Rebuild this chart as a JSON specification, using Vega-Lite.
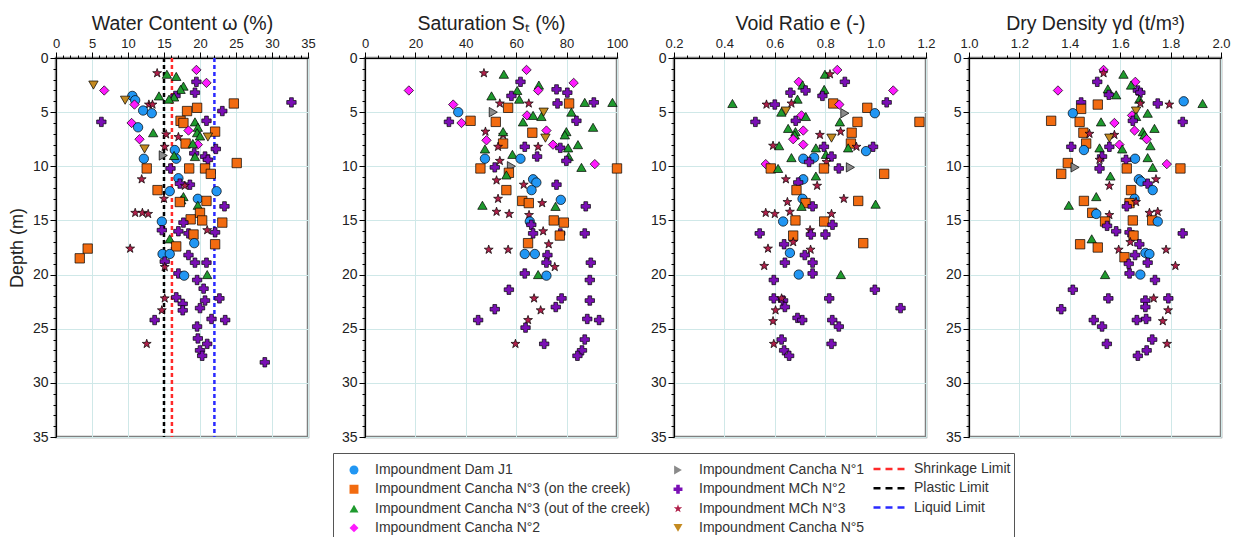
{
"$schema": "https://vega.github.io/schema/vega-lite/v6.json",
"padding": {"left": 7, "top": 11, "right": 5, "bottom": 0},
"autosize": {"type": "pad"},
"config": {
 "font": "Liberation Sans",
 "view": {"stroke": "#7f7f7f", "strokeWidth": 2.5},
 "axis": {"domainColor": "#000", "tickColor": "#000", "labelColor": "#222", "titleColor": "#222", "titleFontWeight": "normal", "labelFont": "Liberation Sans", "titleFont": "Liberation Sans", "gridColor": "#cfe8e8", "labelOverlap": false, "labelFlush": false},
 "legend": {"labelFont": "Liberation Sans", "labelFontSize": 14, "labelColor": "#333", "labelLimit": 400}
},
"datasets": {
 "groups": [
  {"k": "A", "group": "Impoundment Dam J1"},
  {"k": "B", "group": "Impoundment Cancha N°3 (on the creek)"},
  {"k": "C", "group": "Impoundment Cancha N°3 (out of the creek)"},
  {"k": "D", "group": "Impoundment Cancha N°2"},
  {"k": "E", "group": "Impoundment Cancha N°1"},
  {"k": "F", "group": "Impoundment MCh N°2"},
  {"k": "G", "group": "Impoundment MCh N°3"},
  {"k": "H", "group": "Impoundment Cancha N°5"}
 ],
 "limits": [
  {"limit": "Shrinkage Limit", "w": 16.1},
  {"limit": "Plastic Limit", "w": 15},
  {"limit": "Liquid Limit", "w": 22}
 ],
 "wc": [
  {"k":"G","d":1.4,"v":14.05},{"k":"C","d":1.5,"v":15.4},{"k":"C","d":1.7,"v":16.7},{"k":"D","d":1.1,"v":19.5},{"k":"F","d":2.2,"v":19.5},{"k":"D","d":2.3,"v":20.9},{"k":"C","d":2.6,"v":17.7},{"k":"C","d":2.9,"v":17.3},{"k":"F","d":3.5,"v":16.6},{"k":"F","d":3.2,"v":19.3},{"k":"C","d":3.6,"v":16.4},{"k":"H","d":2.5,"v":5.2},{"k":"D","d":3.0,"v":6.7},{"k":"A","d":3.5,"v":10.6},{"k":"A","d":3.9,"v":11.0},{"k":"H","d":3.9,"v":9.6},{"k":"D","d":4.3,"v":10.9},{"k":"G","d":4.3,"v":12.9},{"k":"G","d":4.3,"v":13.4},{"k":"A","d":4.85,"v":12.1},{"k":"A","d":5.1,"v":13.3},{"k":"C","d":3.5,"v":14.3},{"k":"C","d":3.8,"v":15.7},{"k":"B","d":4.2,"v":24.7},{"k":"F","d":4.9,"v":23.1},{"k":"F","d":4.1,"v":32.7},{"k":"B","d":4.9,"v":18.2},{"k":"B","d":4.6,"v":19.6},{"k":"F","d":5.9,"v":6.3},{"k":"D","d":6.0,"v":10.5},{"k":"A","d":6.4,"v":11.4},{"k":"B","d":5.8,"v":17.3},{"k":"B","d":6.0,"v":17.7},{"k":"C","d":5.9,"v":19.3},{"k":"C","d":6.4,"v":19.7},{"k":"F","d":5.8,"v":20.9},{"k":"C","d":6.9,"v":13.5},{"k":"D","d":6.7,"v":18.4},{"k":"C","d":6.9,"v":19.6},{"k":"C","d":7.2,"v":20.0},{"k":"B","d":6.8,"v":22.1},{"k":"H","d":7.3,"v":21.1},{"k":"D","d":7.5,"v":11.6},{"k":"G","d":7.05,"v":15.3},{"k":"G","d":7.3,"v":17.0},{"k":"B","d":7.9,"v":18.0},{"k":"D","d":8.0,"v":19.7},{"k":"C","d":7.9,"v":19.0},{"k":"H","d":8.4,"v":12.3},{"k":"G","d":8.2,"v":15.1},{"k":"F","d":8.4,"v":22.2},{"k":"E","d":9.0,"v":14.9},{"k":"A","d":8.5,"v":16.5},{"k":"A","d":9.3,"v":16.7},{"k":"C","d":9.0,"v":16.4},{"k":"A","d":9.3,"v":12.2},{"k":"F","d":8.8,"v":19.2},{"k":"F","d":9.1,"v":20.7},{"k":"F","d":9.4,"v":21.1},{"k":"C","d":9.1,"v":19.3},{"k":"B","d":10.2,"v":12.6},{"k":"F","d":10.2,"v":15.9},{"k":"B","d":10.2,"v":18.5},{"k":"B","d":10.2,"v":20.7},{"k":"B","d":10.7,"v":21.5},{"k":"B","d":9.7,"v":25.1},{"k":"G","d":11.2,"v":11.9},{"k":"A","d":11.1,"v":17.0},{"k":"F","d":11.6,"v":17.2},{"k":"F","d":11.7,"v":18.6},{"k":"G","d":11.8,"v":17.9},{"k":"B","d":12.2,"v":14.1},{"k":"A","d":12.3,"v":15.8},{"k":"A","d":12.3,"v":22.3},{"k":"C","d":12.8,"v":17.7},{"k":"C","d":13.1,"v":17.4},{"k":"G","d":13.0,"v":15.0},{"k":"B","d":13.3,"v":17.2},{"k":"A","d":13.0,"v":19.7},{"k":"B","d":13.2,"v":20.9},{"k":"C","d":13.6,"v":19.7},{"k":"G","d":14.3,"v":11.0},{"k":"G","d":14.3,"v":12.0},{"k":"G","d":14.4,"v":12.8},{"k":"F","d":13.7,"v":23.4},{"k":"B","d":14.3,"v":20.0},{"k":"B","d":14.9,"v":18.7},{"k":"B","d":15.0,"v":20.3},{"k":"B","d":15.2,"v":23.1},{"k":"A","d":15.1,"v":14.7},{"k":"F","d":15.2,"v":17.7},{"k":"F","d":15.9,"v":14.7},{"k":"F","d":16.0,"v":17.0},{"k":"F","d":16.2,"v":18.4},{"k":"B","d":16.3,"v":19.1},{"k":"F","d":16.1,"v":22.1},{"k":"G","d":15.9,"v":21.0},{"k":"C","d":16.7,"v":15.8},{"k":"B","d":18.5,"v":3.3},{"k":"B","d":17.6,"v":4.4},{"k":"G","d":17.6,"v":10.3},{"k":"B","d":17.4,"v":16.7},{"k":"A","d":17.1,"v":19.2},{"k":"B","d":17.2,"v":22.1},{"k":"A","d":18.1,"v":14.8},{"k":"A","d":18.1,"v":15.8},{"k":"F","d":18.2,"v":18.4},{"k":"F","d":18.9,"v":19.3},{"k":"F","d":18.9,"v":20.9},{"k":"F","d":18.8,"v":15.1},{"k":"G","d":19.3,"v":15.1},{"k":"F","d":19.9,"v":17.0},{"k":"A","d":20.1,"v":17.8},{"k":"C","d":20.0,"v":21.0},{"k":"F","d":20.5,"v":19.6},{"k":"F","d":21.3,"v":20.5},{"k":"F","d":22.2,"v":22.7},{"k":"G","d":22.2,"v":15.1},{"k":"F","d":22.1,"v":16.7},{"k":"F","d":22.7,"v":17.6},{"k":"F","d":23.3,"v":17.6},{"k":"F","d":22.4,"v":20.7},{"k":"F","d":23.1,"v":20.0},{"k":"G","d":23.3,"v":14.7},{"k":"F","d":24.2,"v":13.7},{"k":"F","d":24.1,"v":21.6},{"k":"F","d":24.2,"v":23.5},{"k":"F","d":24.8,"v":19.6},{"k":"F","d":25.9,"v":19.7},{"k":"F","d":26.4,"v":21.0},{"k":"F","d":27.0,"v":20.0},{"k":"F","d":27.5,"v":20.3},{"k":"G","d":26.4,"v":12.6},{"k":"F","d":28.1,"v":29.0}
 ],
 "sat": [
  {"k":"G","d":1.4,"v":47.2},{"k":"C","d":1.5,"v":55.1},{"k":"D","d":1.1,"v":64.1},{"k":"F","d":2.2,"v":61.7},{"k":"D","d":2.3,"v":82.8},{"k":"C","d":2.5,"v":69.0},{"k":"C","d":3.0,"v":60.4},{"k":"D","d":3.0,"v":68.7},{"k":"F","d":2.9,"v":76.0},{"k":"F","d":3.2,"v":80.3},{"k":"F","d":3.5,"v":58.1},{"k":"D","d":3.0,"v":17.4},{"k":"C","d":3.5,"v":50.2},{"k":"C","d":3.8,"v":61.2},{"k":"D","d":4.3,"v":35.0},{"k":"A","d":5.0,"v":37.0},{"k":"F","d":5.9,"v":33.3},{"k":"D","d":6.0,"v":38.3},{"k":"B","d":5.8,"v":41.9},{"k":"B","d":5.9,"v":51.9},{"k":"E","d":5.0,"v":50.9},{"k":"G","d":4.2,"v":53.5},{"k":"G","d":4.2,"v":65.0},{"k":"B","d":4.6,"v":56.8},{"k":"B","d":4.2,"v":81.0},{"k":"C","d":4.1,"v":87.2},{"k":"C","d":4.1,"v":98.2},{"k":"F","d":4.2,"v":76.4},{"k":"F","d":4.1,"v":90.8},{"k":"C","d":5.0,"v":81.9},{"k":"F","d":5.8,"v":83.9},{"k":"D","d":5.3,"v":64.3},{"k":"C","d":5.3,"v":66.7},{"k":"C","d":5.4,"v":70.0},{"k":"H","d":5.0,"v":70.9},{"k":"C","d":5.9,"v":62.7},{"k":"C","d":6.4,"v":90.5},{"k":"D","d":6.7,"v":72.0},{"k":"B","d":6.9,"v":66.4},{"k":"H","d":7.4,"v":71.6},{"k":"G","d":6.8,"v":47.8},{"k":"G","d":7.1,"v":54.8},{"k":"C","d":6.8,"v":54.8},{"k":"B","d":7.9,"v":54.8},{"k":"D","d":7.6,"v":48.2},{"k":"C","d":6.8,"v":79.9},{"k":"C","d":7.1,"v":79.3},{"k":"D","d":8.0,"v":74.6},{"k":"F","d":8.2,"v":63.4},{"k":"F","d":8.3,"v":77.5},{"k":"G","d":8.2,"v":68.7},{"k":"C","d":8.3,"v":80.6},{"k":"C","d":8.0,"v":84.5},{"k":"C","d":8.4,"v":47.6},{"k":"G","d":8.2,"v":52.8},{"k":"A","d":9.3,"v":47.6},{"k":"C","d":8.9,"v":58.5},{"k":"A","d":9.3,"v":61.7},{"k":"F","d":9.1,"v":68.3},{"k":"C","d":9.1,"v":80.8},{"k":"G","d":9.5,"v":53.5},{"k":"F","d":9.5,"v":79.9},{"k":"C","d":10.1,"v":85.9},{"k":"D","d":9.8,"v":91.2},{"k":"B","d":10.2,"v":100},{"k":"B","d":10.2,"v":45.8},{"k":"E","d":10.0,"v":58.1},{"k":"F","d":10.1,"v":51.5},{"k":"B","d":10.6,"v":57.1},{"k":"C","d":10.8,"v":56.1},{"k":"G","d":11.3,"v":52.2},{"k":"A","d":11.2,"v":66.7},{"k":"A","d":11.5,"v":68.0},{"k":"F","d":11.7,"v":76.0},{"k":"G","d":11.7,"v":63.0},{"k":"A","d":12.2,"v":66.1},{"k":"B","d":12.2,"v":56.1},{"k":"G","d":13.0,"v":52.8},{"k":"C","d":13.6,"v":46.6},{"k":"B","d":13.2,"v":62.4},{"k":"B","d":13.4,"v":65.0},{"k":"G","d":13.4,"v":70.3},{"k":"A","d":13.1,"v":77.7},{"k":"C","d":13.7,"v":75.6},{"k":"F","d":13.7,"v":87.6},{"k":"G","d":14.2,"v":52.2},{"k":"G","d":14.4,"v":57.2},{"k":"G","d":14.5,"v":65.1},{"k":"A","d":15.1,"v":65.4},{"k":"F","d":15.4,"v":66.0},{"k":"B","d":15.0,"v":74.9},{"k":"B","d":15.2,"v":78.9},{"k":"F","d":16.2,"v":87.2},{"k":"F","d":16.2,"v":66.7},{"k":"F","d":16.2,"v":77.5},{"k":"G","d":16.0,"v":70.7},{"k":"B","d":16.4,"v":77.3},{"k":"B","d":17.1,"v":64.7},{"k":"A","d":18.1,"v":63.4},{"k":"A","d":18.1,"v":67.4},{"k":"G","d":17.7,"v":49.1},{"k":"G","d":17.7,"v":56.8},{"k":"G","d":17.2,"v":72.9},{"k":"F","d":18.2,"v":72.4},{"k":"F","d":18.9,"v":72.0},{"k":"G","d":19.3,"v":75.3},{"k":"F","d":18.9,"v":89.6},{"k":"F","d":19.9,"v":63.4},{"k":"C","d":20.0,"v":68.7},{"k":"A","d":20.1,"v":72.0},{"k":"F","d":20.5,"v":89.2},{"k":"F","d":21.4,"v":57.1},{"k":"G","d":22.2,"v":67.1},{"k":"F","d":22.2,"v":78.0},{"k":"F","d":22.4,"v":89.2},{"k":"G","d":23.3,"v":69.7},{"k":"F","d":23.0,"v":75.7},{"k":"F","d":23.2,"v":51.5},{"k":"F","d":24.2,"v":44.9},{"k":"G","d":24.2,"v":64.7},{"k":"F","d":24.9,"v":63.7},{"k":"F","d":24.1,"v":88.2},{"k":"F","d":24.2,"v":92.9},{"k":"G","d":26.4,"v":59.7},{"k":"F","d":26.4,"v":71.1},{"k":"F","d":26.0,"v":87.2},{"k":"F","d":27.0,"v":86.1},{"k":"F","d":27.5,"v":84.3}
 ],
 "vr": [
  {"k":"C","d":1.5,"v":0.799},{"k":"G","d":1.5,"v":0.819},{"k":"D","d":1.1,"v":0.848},{"k":"F","d":2.2,"v":0.878},{"k":"D","d":2.2,"v":0.695},{"k":"C","d":2.5,"v":0.71},{"k":"D","d":3.0,"v":1.07},{"k":"F","d":3.2,"v":0.662},{"k":"F","d":3.0,"v":0.722},{"k":"C","d":2.9,"v":0.796},{"k":"F","d":3.5,"v":0.789},{"k":"C","d":3.8,"v":0.69},{"k":"G","d":4.2,"v":0.666},{"k":"C","d":4.2,"v":0.432},{"k":"G","d":4.3,"v":0.567},{"k":"F","d":4.3,"v":0.6},{"k":"B","d":4.2,"v":0.832},{"k":"F","d":4.1,"v":1.044},{"k":"C","d":5.0,"v":0.626},{"k":"H","d":4.9,"v":0.644},{"k":"D","d":4.3,"v":0.856},{"k":"E","d":5.1,"v":0.878},{"k":"B","d":4.6,"v":0.967},{"k":"A","d":5.1,"v":0.997},{"k":"B","d":5.9,"v":1.174},{"k":"B","d":5.9,"v":0.928},{"k":"C","d":5.9,"v":0.858},{"k":"F","d":5.9,"v":0.523},{"k":"F","d":5.8,"v":0.683},{"k":"D","d":5.3,"v":0.706},{"k":"C","d":5.4,"v":0.723},{"k":"C","d":6.5,"v":0.653},{"k":"C","d":6.8,"v":0.682},{"k":"C","d":7.1,"v":0.679},{"k":"D","d":6.7,"v":0.713},{"k":"D","d":7.5,"v":0.673},{"k":"B","d":6.9,"v":0.905},{"k":"G","d":6.8,"v":0.861},{"k":"H","d":7.4,"v":0.825},{"k":"G","d":7.1,"v":0.779},{"k":"B","d":7.9,"v":0.902},{"k":"C","d":8.1,"v":0.617},{"k":"G","d":8.1,"v":0.593},{"k":"D","d":8.0,"v":0.713},{"k":"F","d":8.2,"v":0.795},{"k":"C","d":8.3,"v":0.763},{"k":"C","d":8.3,"v":0.891},{"k":"G","d":8.2,"v":0.924},{"k":"F","d":8.2,"v":0.99},{"k":"A","d":8.6,"v":0.962},{"k":"C","d":8.9,"v":0.803},{"k":"F","d":9.1,"v":0.825},{"k":"C","d":9.2,"v":0.666},{"k":"A","d":9.3,"v":0.713},{"k":"A","d":9.2,"v":0.756},{"k":"F","d":9.6,"v":0.736},{"k":"G","d":9.6,"v":0.805},{"k":"D","d":9.8,"v":0.564},{"k":"B","d":10.2,"v":0.584},{"k":"C","d":10.2,"v":0.613},{"k":"B","d":10.2,"v":0.795},{"k":"F","d":10.2,"v":0.854},{"k":"E","d":10.1,"v":0.9},{"k":"B","d":10.7,"v":1.034},{"k":"C","d":10.9,"v":0.763},{"k":"G","d":11.2,"v":0.644},{"k":"A","d":11.2,"v":0.713},{"k":"F","d":11.5,"v":0.693},{"k":"G","d":11.8,"v":0.768},{"k":"B","d":12.2,"v":0.686},{"k":"G","d":13.0,"v":0.874},{"k":"B","d":13.2,"v":0.931},{"k":"A","d":13.0,"v":0.71},{"k":"B","d":13.4,"v":0.722},{"k":"C","d":13.7,"v":0.706},{"k":"F","d":13.7,"v":0.75},{"k":"C","d":13.5,"v":1.0},{"k":"G","d":13.3,"v":0.65},{"k":"G","d":14.3,"v":0.564},{"k":"G","d":14.4,"v":0.6},{"k":"G","d":14.2,"v":0.66},{"k":"G","d":14.4,"v":0.825},{"k":"A","d":15.1,"v":0.633},{"k":"B","d":15.0,"v":0.682},{"k":"B","d":15.1,"v":0.796},{"k":"F","d":15.4,"v":0.829},{"k":"G","d":15.9,"v":0.74},{"k":"F","d":16.2,"v":0.54},{"k":"B","d":16.4,"v":0.673},{"k":"F","d":16.3,"v":0.743},{"k":"F","d":16.3,"v":0.801},{"k":"B","d":17.1,"v":0.951},{"k":"G","d":17.6,"v":0.573},{"k":"F","d":17.2,"v":0.637},{"k":"G","d":17.0,"v":0.673},{"k":"A","d":18.0,"v":0.66},{"k":"G","d":17.7,"v":0.742},{"k":"F","d":18.2,"v":0.719},{"k":"F","d":18.9,"v":0.64},{"k":"F","d":18.9,"v":0.75},{"k":"G","d":19.2,"v":0.558},{"k":"A","d":20.0,"v":0.695},{"k":"F","d":19.9,"v":0.75},{"k":"C","d":20.0,"v":0.862},{"k":"F","d":20.5,"v":0.596},{"k":"F","d":21.4,"v":0.997},{"k":"F","d":22.2,"v":0.596},{"k":"F","d":22.4,"v":0.633},{"k":"G","d":22.2,"v":0.627},{"k":"F","d":22.2,"v":0.816},{"k":"G","d":23.3,"v":0.603},{"k":"F","d":23.0,"v":0.64},{"k":"F","d":23.1,"v":1.099},{"k":"G","d":24.3,"v":0.593},{"k":"F","d":24.0,"v":0.69},{"k":"F","d":24.2,"v":0.709},{"k":"F","d":24.2,"v":0.828},{"k":"F","d":24.8,"v":0.854},{"k":"F","d":26.0,"v":0.627},{"k":"G","d":26.4,"v":0.596},{"k":"F","d":26.4,"v":0.825},{"k":"F","d":27.0,"v":0.637},{"k":"F","d":27.5,"v":0.657}
 ],
 "dd": [
  {"k":"D","d":1.1,"v":1.534},{"k":"G","d":1.4,"v":1.534},{"k":"C","d":1.5,"v":1.613},{"k":"F","d":2.2,"v":1.509},{"k":"D","d":2.2,"v":1.66},{"k":"C","d":2.5,"v":1.643},{"k":"D","d":3.0,"v":1.353},{"k":"C","d":2.85,"v":1.551},{"k":"F","d":3.0,"v":1.67},{"k":"F","d":3.2,"v":1.68},{"k":"F","d":3.4,"v":1.555},{"k":"C","d":3.4,"v":1.584},{"k":"C","d":3.8,"v":1.676},{"k":"F","d":4.1,"v":1.445},{"k":"B","d":4.3,"v":1.511},{"k":"B","d":4.7,"v":1.445},{"k":"F","d":4.2,"v":1.749},{"k":"G","d":4.3,"v":1.795},{"k":"G","d":4.2,"v":1.68},{"k":"A","d":4.0,"v":1.852},{"k":"C","d":4.2,"v":1.927},{"k":"A","d":5.1,"v":1.412},{"k":"H","d":4.9,"v":1.663},{"k":"C","d":5.1,"v":1.709},{"k":"D","d":5.3,"v":1.647},{"k":"C","d":5.4,"v":1.663},{"k":"F","d":5.8,"v":1.65},{"k":"B","d":5.8,"v":1.326},{"k":"B","d":5.9,"v":1.439},{"k":"C","d":5.9,"v":1.524},{"k":"D","d":6.0,"v":1.577},{"k":"F","d":5.9,"v":1.848},{"k":"C","d":6.5,"v":1.736},{"k":"D","d":6.7,"v":1.657},{"k":"C","d":6.8,"v":1.69},{"k":"C","d":7.1,"v":1.696},{"k":"B","d":6.9,"v":1.454},{"k":"G","d":7.0,"v":1.478},{"k":"G","d":7.1,"v":1.577},{"k":"H","d":7.4,"v":1.557},{"k":"D","d":7.5,"v":1.705},{"k":"B","d":7.9,"v":1.465},{"k":"D","d":8.0,"v":1.597},{"k":"C","d":8.1,"v":1.72},{"k":"F","d":8.2,"v":1.406},{"k":"F","d":8.2,"v":1.557},{"k":"C","d":8.3,"v":1.518},{"k":"A","d":8.5,"v":1.456},{"k":"C","d":8.4,"v":1.608},{"k":"F","d":9.1,"v":1.528},{"k":"G","d":9.4,"v":1.518},{"k":"A","d":9.3,"v":1.659},{"k":"F","d":9.4,"v":1.623},{"k":"C","d":9.2,"v":1.709},{"k":"C","d":10.1,"v":1.729},{"k":"D","d":9.8,"v":1.785},{"k":"B","d":10.2,"v":1.839},{"k":"B","d":9.7,"v":1.392},{"k":"B","d":10.7,"v":1.366},{"k":"E","d":10.1,"v":1.421},{"k":"F","d":10.2,"v":1.518},{"k":"B","d":10.2,"v":1.626},{"k":"C","d":10.9,"v":1.561},{"k":"A","d":11.2,"v":1.674},{"k":"A","d":11.4,"v":1.683},{"k":"F","d":11.6,"v":1.709},{"k":"G","d":11.2,"v":1.742},{"k":"G","d":11.8,"v":1.557},{"k":"A","d":12.2,"v":1.729},{"k":"B","d":12.2,"v":1.643},{"k":"C","d":12.8,"v":1.505},{"k":"B","d":13.2,"v":1.456},{"k":"A","d":13.0,"v":1.657},{"k":"B","d":13.4,"v":1.637},{"k":"G","d":13.3,"v":1.663},{"k":"F","d":13.7,"v":1.626},{"k":"C","d":13.6,"v":1.396},{"k":"B","d":14.3,"v":1.489},{"k":"A","d":14.4,"v":1.505},{"k":"G","d":14.3,"v":1.716},{"k":"G","d":14.2,"v":1.749},{"k":"G","d":14.5,"v":1.557},{"k":"B","d":15.1,"v":1.54},{"k":"F","d":15.5,"v":1.548},{"k":"B","d":15.0,"v":1.65},{"k":"B","d":15.0,"v":1.727},{"k":"A","d":15.1,"v":1.749},{"k":"F","d":16.0,"v":1.584},{"k":"F","d":16.1,"v":1.637},{"k":"F","d":16.2,"v":1.848},{"k":"C","d":16.7,"v":1.487},{"k":"B","d":16.4,"v":1.653},{"k":"B","d":17.2,"v":1.441},{"k":"B","d":17.5,"v":1.511},{"k":"G","d":17.0,"v":1.64},{"k":"F","d":17.2,"v":1.676},{"k":"G","d":17.7,"v":1.594},{"k":"F","d":18.2,"v":1.659},{"k":"A","d":18.0,"v":1.7},{"k":"A","d":18.1,"v":1.716},{"k":"B","d":18.4,"v":1.617},{"k":"G","d":17.7,"v":1.782},{"k":"F","d":18.9,"v":1.709},{"k":"F","d":19.0,"v":1.634},{"k":"G","d":19.2,"v":1.819},{"k":"F","d":19.9,"v":1.637},{"k":"A","d":20.0,"v":1.68},{"k":"C","d":20.0,"v":1.54},{"k":"F","d":20.5,"v":1.738},{"k":"F","d":21.4,"v":1.412},{"k":"F","d":22.2,"v":1.553},{"k":"F","d":22.4,"v":1.7},{"k":"F","d":22.2,"v":1.791},{"k":"F","d":23.0,"v":1.7},{"k":"G","d":22.2,"v":1.733},{"k":"F","d":23.2,"v":1.366},{"k":"G","d":23.3,"v":1.79},{"k":"F","d":24.2,"v":1.495},{"k":"F","d":24.8,"v":1.528},{"k":"F","d":24.2,"v":1.666},{"k":"F","d":24.1,"v":1.703},{"k":"G","d":24.3,"v":1.769},{"k":"F","d":26.4,"v":1.547},{"k":"F","d":26.0,"v":1.727},{"k":"F","d":27.0,"v":1.705},{"k":"F","d":27.5,"v":1.67},{"k":"G","d":26.4,"v":1.786}
 ]
},
"spacing": 5,
"hconcat": [
 {
  "bounds": "flush",
  "spacing": 57,
  "hconcat": [
   {
    "width": 252, "height": 379,
    "layer": [
     {
      "data": {"name": "limits"},
      "mark": {"type": "rule", "strokeDash": [4, 3], "strokeWidth": 2.5},
      "encoding": {
       "x": {"field": "w", "type": "quantitative", "scale": {"domain": [0, 35], "nice": false, "zero": false},
        "axis": {"orient": "top", "title": "Water Content ω (%)", "titleFontSize": 19.5, "titlePadding": 4, "labelFontSize": 13, "labelPadding": 2,
         "values": [0,1,2,3,4,5,6,7,8,9,10,11,12,13,14,15,16,17,18,19,20,21,22,23,24,25,26,27,28,29,30,31,32,33,34,35],
         "labelExpr": "datum.value % 5 === 0 ? datum.label : ''",
         "tickSize": {"condition": {"test": "datum.value % 5 === 0", "value": 6}, "value": 3},
         "grid": true, "gridOpacity": {"condition": {"test": "datum.value % 5 === 0", "value": 1}, "value": 0}}},
       "stroke": {"field": "limit", "type": "nominal",
        "scale": {"domain": ["Shrinkage Limit", "Plastic Limit", "Liquid Limit"], "range": ["#ff2a2a", "#000000", "#2a2aff"]},
        "legend": {"orient": "none", "legendX": 816, "legendY": 404, "title": null, "symbolType": "stroke", "symbolSize": 1024, "symbolDash": [7, 5], "symbolStrokeWidth": 2.5, "labelOffset": 7, "clipHeight": 14, "rowPadding": 5.3, "padding": 0}}
      }
     },
     {
      "data": {"name": "wc"},
      "transform": [{"lookup": "k", "from": {"data": {"name": "groups"}, "key": "k", "fields": ["group"]}}],
      "mark": {"type": "point", "filled": true, "stroke": "#000", "strokeWidth": 0.7, "size": 88, "opacity": 1},
      "encoding": {
       "x": {"field": "v", "type": "quantitative", "scale": {"domain": [0, 35], "nice": false, "zero": false},
        "axis": {"orient": "top", "title": "Water Content ω (%)", "titleFontSize": 19.5, "titlePadding": 4, "labelFontSize": 13, "labelPadding": 2,
         "values": [0,1,2,3,4,5,6,7,8,9,10,11,12,13,14,15,16,17,18,19,20,21,22,23,24,25,26,27,28,29,30,31,32,33,34,35],
         "labelExpr": "datum.value % 5 === 0 ? datum.label : ''",
         "tickSize": {"condition": {"test": "datum.value % 5 === 0", "value": 6}, "value": 3},
         "grid": true, "gridOpacity": {"condition": {"test": "datum.value % 5 === 0", "value": 1}, "value": 0}}},
       "y": {"field": "d", "type": "quantitative", "scale": {"domain": [0, 35], "reverse": true, "nice": false, "zero": false},
        "axis": {"orient": "left", "title": "Depth (m)", "titleFontSize": 18, "titlePadding": 6, "labelFontSize": 14, "labelPadding": 2,
         "values": [0,1,2,3,4,5,6,7,8,9,10,11,12,13,14,15,16,17,18,19,20,21,22,23,24,25,26,27,28,29,30,31,32,33,34,35],
         "labelExpr": "datum.value % 5 === 0 ? datum.label : ''",
         "tickSize": {"condition": {"test": "datum.value % 5 === 0", "value": 6}, "value": 3},
         "grid": true, "gridOpacity": {"condition": {"test": "datum.value % 5 === 0", "value": 1}, "value": 0}}},
       "shape": {"field": "group", "type": "nominal",
        "scale": {"domain": ["Impoundment Dam J1", "Impoundment Cancha N°3 (on the creek)", "Impoundment Cancha N°3 (out of the creek)", "Impoundment Cancha N°2", "Impoundment Cancha N°1", "Impoundment MCh N°2", "Impoundment MCh N°3", "Impoundment Cancha N°5"],
         "range": ["circle", "square", "triangle-up", "diamond", "triangle-right", "cross", "M0,-1L0.235,-0.324L0.951,-0.309L0.38,0.124L0.588,0.809L0,0.4L-0.588,0.809L-0.38,0.124L-0.951,-0.309L-0.235,-0.324Z", "triangle-down"]},
        "legend": {"orient": "none", "legendX": 277, "legendY": 395, "title": " ", "titleOrient": "right", "titlePadding": 140, "columns": 2, "columnPadding": 17, "rowPadding": 5.3, "clipHeight": 14, "padding": 10, "strokeColor": "#555", "symbolOffset": 4, "labelOffset": 14, "symbolSize": 80, "symbolStrokeWidth": 0}},
       "fill": {"field": "group", "type": "nominal",
        "scale": {"domain": ["Impoundment Dam J1", "Impoundment Cancha N°3 (on the creek)", "Impoundment Cancha N°3 (out of the creek)", "Impoundment Cancha N°2", "Impoundment Cancha N°1", "Impoundment MCh N°2", "Impoundment MCh N°3", "Impoundment Cancha N°5"],
         "range": ["#2196f3", "#f26b10", "#1f9a2e", "#ff1aff", "#8a8a8a", "#7a0fb5", "#b0204a", "#c48a20"]},
        "legend": {"orient": "none", "legendX": 277, "legendY": 395, "title": " ", "titleOrient": "right", "titlePadding": 140, "columns": 2, "columnPadding": 17, "rowPadding": 5.3, "clipHeight": 14, "padding": 10, "strokeColor": "#555", "symbolOffset": 4, "labelOffset": 14, "symbolSize": 80, "symbolStrokeWidth": 0}}
      }
     }
    ]
   },
   {
    "width": 252, "height": 379,
    "data": {"name": "sat"},
    "transform": [{"lookup": "k", "from": {"data": {"name": "groups"}, "key": "k", "fields": ["group"]}}],
    "mark": {"type": "point", "filled": true, "stroke": "#000", "strokeWidth": 0.7, "size": 88, "opacity": 1},
    "encoding": {
     "x": {"field": "v", "type": "quantitative", "scale": {"domain": [0, 100], "nice": false, "zero": false},
      "axis": {"orient": "top", "title": "Saturation Sₜ (%)", "titleFontSize": 19.5, "titlePadding": 4, "labelFontSize": 13, "labelPadding": 2,
       "values": [0,5,10,15,20,25,30,35,40,45,50,55,60,65,70,75,80,85,90,95,100],
       "labelExpr": "datum.value % 20 === 0 ? datum.label : ''",
       "tickSize": {"condition": {"test": "datum.value % 20 === 0", "value": 6}, "value": 3},
       "grid": true, "gridOpacity": {"condition": {"test": "datum.value % 20 === 0", "value": 1}, "value": 0}}},
     "y": {"field": "d", "type": "quantitative", "scale": {"domain": [0, 35], "reverse": true, "nice": false, "zero": false},
      "axis": {"orient": "left", "title": null, "labelFontSize": 14, "labelPadding": 2,
       "values": [0,1,2,3,4,5,6,7,8,9,10,11,12,13,14,15,16,17,18,19,20,21,22,23,24,25,26,27,28,29,30,31,32,33,34,35],
       "labelExpr": "datum.value % 5 === 0 ? datum.label : ''",
       "tickSize": {"condition": {"test": "datum.value % 5 === 0", "value": 6}, "value": 3},
       "grid": true, "gridOpacity": {"condition": {"test": "datum.value % 5 === 0", "value": 1}, "value": 0}}},
     "shape": {"field": "group", "type": "nominal",
      "scale": {"domain": ["Impoundment Dam J1", "Impoundment Cancha N°3 (on the creek)", "Impoundment Cancha N°3 (out of the creek)", "Impoundment Cancha N°2", "Impoundment Cancha N°1", "Impoundment MCh N°2", "Impoundment MCh N°3", "Impoundment Cancha N°5"],
       "range": ["circle", "square", "triangle-up", "diamond", "triangle-right", "cross", "M0,-1L0.235,-0.324L0.951,-0.309L0.38,0.124L0.588,0.809L0,0.4L-0.588,0.809L-0.38,0.124L-0.951,-0.309L-0.235,-0.324Z", "triangle-down"]},
      "legend": {"orient": "none", "legendX": 277, "legendY": 395, "title": " ", "titleOrient": "right", "titlePadding": 140, "columns": 2, "columnPadding": 17, "rowPadding": 5.3, "clipHeight": 14, "padding": 10, "strokeColor": "#555", "symbolOffset": 4, "labelOffset": 14, "symbolSize": 80, "symbolStrokeWidth": 0}},
     "fill": {"field": "group", "type": "nominal",
      "scale": {"domain": ["Impoundment Dam J1", "Impoundment Cancha N°3 (on the creek)", "Impoundment Cancha N°3 (out of the creek)", "Impoundment Cancha N°2", "Impoundment Cancha N°1", "Impoundment MCh N°2", "Impoundment MCh N°3", "Impoundment Cancha N°5"],
       "range": ["#2196f3", "#f26b10", "#1f9a2e", "#ff1aff", "#8a8a8a", "#7a0fb5", "#b0204a", "#c48a20"]},
      "legend": {"orient": "none", "legendX": 277, "legendY": 395, "title": " ", "titleOrient": "right", "titlePadding": 140, "columns": 2, "columnPadding": 17, "rowPadding": 5.3, "clipHeight": 14, "padding": 10, "strokeColor": "#555", "symbolOffset": 4, "labelOffset": 14, "symbolSize": 80, "symbolStrokeWidth": 0}}
    }
   },
   {
    "width": 252, "height": 379,
    "data": {"name": "vr"},
    "transform": [{"lookup": "k", "from": {"data": {"name": "groups"}, "key": "k", "fields": ["group"]}}],
    "mark": {"type": "point", "filled": true, "stroke": "#000", "strokeWidth": 0.7, "size": 88, "opacity": 1},
    "encoding": {
     "x": {"field": "v", "type": "quantitative", "scale": {"domain": [0.2, 1.2], "nice": false, "zero": false},
      "axis": {"orient": "top", "title": "Void Ratio e (-)", "titleFontSize": 19.5, "titlePadding": 4, "labelFontSize": 13, "labelPadding": 2, "format": ".1f",
       "values": [0.2,0.25,0.3,0.35,0.4,0.45,0.5,0.55,0.6,0.65,0.7,0.75,0.8,0.85,0.9,0.95,1.0,1.05,1.1,1.15,1.2],
       "labelExpr": "abs(datum.value*5 - round(datum.value*5)) < 0.001 ? datum.label : ''",
       "tickSize": {"condition": {"test": "abs(datum.value*5 - round(datum.value*5)) < 0.001", "value": 6}, "value": 3},
       "grid": true, "gridOpacity": {"condition": {"test": "abs(datum.value*5 - round(datum.value*5)) < 0.001", "value": 1}, "value": 0}}},
     "y": {"field": "d", "type": "quantitative", "scale": {"domain": [0, 35], "reverse": true, "nice": false, "zero": false},
      "axis": {"orient": "left", "title": null, "labelFontSize": 14, "labelPadding": 2,
       "values": [0,1,2,3,4,5,6,7,8,9,10,11,12,13,14,15,16,17,18,19,20,21,22,23,24,25,26,27,28,29,30,31,32,33,34,35],
       "labelExpr": "datum.value % 5 === 0 ? datum.label : ''",
       "tickSize": {"condition": {"test": "datum.value % 5 === 0", "value": 6}, "value": 3},
       "grid": true, "gridOpacity": {"condition": {"test": "datum.value % 5 === 0", "value": 1}, "value": 0}}},
     "shape": {"field": "group", "type": "nominal",
      "scale": {"domain": ["Impoundment Dam J1", "Impoundment Cancha N°3 (on the creek)", "Impoundment Cancha N°3 (out of the creek)", "Impoundment Cancha N°2", "Impoundment Cancha N°1", "Impoundment MCh N°2", "Impoundment MCh N°3", "Impoundment Cancha N°5"],
       "range": ["circle", "square", "triangle-up", "diamond", "triangle-right", "cross", "M0,-1L0.235,-0.324L0.951,-0.309L0.38,0.124L0.588,0.809L0,0.4L-0.588,0.809L-0.38,0.124L-0.951,-0.309L-0.235,-0.324Z", "triangle-down"]},
      "legend": {"orient": "none", "legendX": 277, "legendY": 395, "title": " ", "titleOrient": "right", "titlePadding": 140, "columns": 2, "columnPadding": 17, "rowPadding": 5.3, "clipHeight": 14, "padding": 10, "strokeColor": "#555", "symbolOffset": 4, "labelOffset": 14, "symbolSize": 80, "symbolStrokeWidth": 0}},
     "fill": {"field": "group", "type": "nominal",
      "scale": {"domain": ["Impoundment Dam J1", "Impoundment Cancha N°3 (on the creek)", "Impoundment Cancha N°3 (out of the creek)", "Impoundment Cancha N°2", "Impoundment Cancha N°1", "Impoundment MCh N°2", "Impoundment MCh N°3", "Impoundment Cancha N°5"],
       "range": ["#2196f3", "#f26b10", "#1f9a2e", "#ff1aff", "#8a8a8a", "#7a0fb5", "#b0204a", "#c48a20"]},
      "legend": {"orient": "none", "legendX": 277, "legendY": 395, "title": " ", "titleOrient": "right", "titlePadding": 140, "columns": 2, "columnPadding": 17, "rowPadding": 5.3, "clipHeight": 14, "padding": 10, "strokeColor": "#555", "symbolOffset": 4, "labelOffset": 14, "symbolSize": 80, "symbolStrokeWidth": 0}}
    }
   }
  ]
 },
 {
  "width": 252, "height": 379,
  "data": {"name": "dd"},
  "transform": [{"lookup": "k", "from": {"data": {"name": "groups"}, "key": "k", "fields": ["group"]}}],
  "mark": {"type": "point", "filled": true, "stroke": "#000", "strokeWidth": 0.7, "size": 88, "opacity": 1},
  "encoding": {
   "x": {"field": "v", "type": "quantitative", "scale": {"domain": [1.0, 2.0], "nice": false, "zero": false},
    "axis": {"orient": "top", "title": "Dry Density γd (t/m³)", "titleFontSize": 19.5, "titlePadding": 4, "labelFontSize": 13, "labelPadding": 2, "format": ".1f",
     "values": [1.0,1.05,1.1,1.15,1.2,1.25,1.3,1.35,1.4,1.45,1.5,1.55,1.6,1.65,1.7,1.75,1.8,1.85,1.9,1.95,2.0],
     "labelExpr": "abs(datum.value*5 - round(datum.value*5)) < 0.001 ? datum.label : ''",
     "tickSize": {"condition": {"test": "abs(datum.value*5 - round(datum.value*5)) < 0.001", "value": 6}, "value": 3},
     "grid": true, "gridOpacity": {"condition": {"test": "abs(datum.value*5 - round(datum.value*5)) < 0.001", "value": 1}, "value": 0}}},
   "y": {"field": "d", "type": "quantitative", "scale": {"domain": [0, 35], "reverse": true, "nice": false, "zero": false},
    "axis": {"orient": "left", "title": null, "labelFontSize": 14, "labelPadding": 2, "minExtent": 25, "maxExtent": 25,
     "values": [0,1,2,3,4,5,6,7,8,9,10,11,12,13,14,15,16,17,18,19,20,21,22,23,24,25,26,27,28,29,30,31,32,33,34,35],
     "labelExpr": "datum.value % 5 === 0 ? datum.label : ''",
     "tickSize": {"condition": {"test": "datum.value % 5 === 0", "value": 6}, "value": 3},
     "grid": true, "gridOpacity": {"condition": {"test": "datum.value % 5 === 0", "value": 1}, "value": 0}}},
   "shape": {"field": "group", "type": "nominal",
    "scale": {"domain": ["Impoundment Dam J1", "Impoundment Cancha N°3 (on the creek)", "Impoundment Cancha N°3 (out of the creek)", "Impoundment Cancha N°2", "Impoundment Cancha N°1", "Impoundment MCh N°2", "Impoundment MCh N°3", "Impoundment Cancha N°5"],
     "range": ["circle", "square", "triangle-up", "diamond", "triangle-right", "cross", "M0,-1L0.235,-0.324L0.951,-0.309L0.38,0.124L0.588,0.809L0,0.4L-0.588,0.809L-0.38,0.124L-0.951,-0.309L-0.235,-0.324Z", "triangle-down"]},
    "legend": {"orient": "none", "legendX": 277, "legendY": 395, "title": " ", "titleOrient": "right", "titlePadding": 140, "columns": 2, "columnPadding": 17, "rowPadding": 5.3, "clipHeight": 14, "padding": 10, "strokeColor": "#555", "symbolOffset": 4, "labelOffset": 14, "symbolSize": 80, "symbolStrokeWidth": 0}},
   "fill": {"field": "group", "type": "nominal",
    "scale": {"domain": ["Impoundment Dam J1", "Impoundment Cancha N°3 (on the creek)", "Impoundment Cancha N°3 (out of the creek)", "Impoundment Cancha N°2", "Impoundment Cancha N°1", "Impoundment MCh N°2", "Impoundment MCh N°3", "Impoundment Cancha N°5"],
     "range": ["#2196f3", "#f26b10", "#1f9a2e", "#ff1aff", "#8a8a8a", "#7a0fb5", "#b0204a", "#c48a20"]},
    "legend": {"orient": "none", "legendX": 277, "legendY": 395, "title": " ", "titleOrient": "right", "titlePadding": 140, "columns": 2, "columnPadding": 17, "rowPadding": 5.3, "clipHeight": 14, "padding": 10, "strokeColor": "#555", "symbolOffset": 4, "labelOffset": 14, "symbolSize": 80, "symbolStrokeWidth": 0}}
  }
 }
]
}
